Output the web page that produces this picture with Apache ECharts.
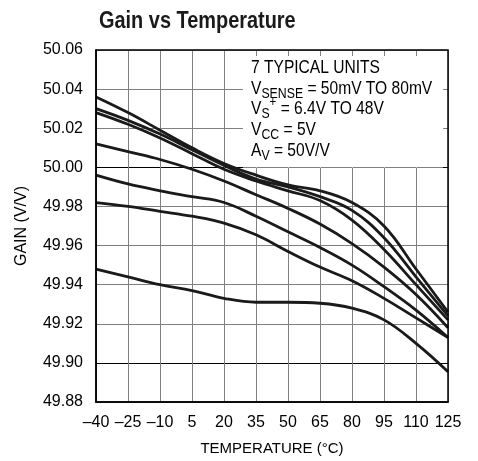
<!DOCTYPE html>
<html><head><meta charset="utf-8">
<script src="https://cdn.jsdelivr.net/npm/echarts@6/dist/echarts.min.js"></script>
<style>html,body{margin:0;padding:0;background:#fff}#c{width:478px;height:461px}</style>
</head><body><div id="c"></div>
<script>
// ---- data ----
const temps = ['–40','–25','–10','5','20','35','50','65','80','95','110','125'];
const unit1 = [50.036, 50.028, 50.019, 50.010, 50.002, 49.996, 49.991, 49.988, 49.982, 49.970, 49.948, 49.926];
const unit2 = [50.030, 50.024, 50.017, 50.009, 50.001, 49.994, 49.990, 49.985, 49.978, 49.964, 49.944, 49.924];
const unit3 = [50.028, 50.022, 50.015, 50.007, 49.999, 49.993, 49.988, 49.983, 49.973, 49.958, 49.940, 49.922];
const unit4 = [50.012, 50.008, 50.004, 49.999, 49.993, 49.986, 49.979, 49.971, 49.961, 49.949, 49.935, 49.918];
const unit5 = [49.996, 49.9915, 49.988, 49.985, 49.982, 49.975, 49.967, 49.959, 49.950, 49.939, 49.927, 49.913];
const unit6 = [49.982, 49.980, 49.9775, 49.975, 49.9715, 49.9655, 49.957, 49.949, 49.942, 49.933, 49.923, 49.913];
const unit7 = [49.948, 49.944, 49.940, 49.937, 49.933, 49.931, 49.931, 49.9305, 49.928, 49.922, 49.910, 49.8955];
const units = [unit1, unit2, unit3, unit4, unit5, unit6, unit7];
const titleText = 'Gain vs Temperature';
const xName = 'TEMPERATURE (°C)';
const yName = 'GAIN (V/V)';
const noteLines = [
  [['7 TYPICAL UNITS','n']],
  [['V','n'],['SENSE','s'],[' = 50mV TO 80mV','n']],
  [['V','n'],['S','s'],['+','p'],[' = 6.4V TO 48V','n']],
  [['V','n'],['CC','s'],[' = 5V','n']],
  [['A','n'],['V','s'],[' = 50V/V','n']]
];

// ---- layout ----
const F = "'Liberation Sans',Arial,Helvetica,sans-serif";
const NARROW = 0.82;
const G = {left:96, top:50, width:352, height:352};
const mctx = document.createElement('canvas').getContext('2d');
function tw(t, s, w){ mctx.font = (w||'normal') + ' ' + s + 'px ' + F; return mctx.measureText(t).width; }

const graphics = [];
// title (condensed look)
graphics.push({type:'text', z:5, x:99, y:21, scaleX:0.83,
  style:{text:titleText, fontSize:24, fontWeight:'bold', fontFamily:F, fill:'#1a1a1a', align:'left', verticalAlign:'middle'}});
// note box
graphics.push({type:'rect', z:1, shape:{x:243, y:56, width:200, height:111.5}, style:{fill:'#fff'}});
const baselines = [74.5, 95, 115.5, 136.5, 157];
const sizes = {n:19, s:15, p:14};
const offs = {n:0, s:4, p:-8};
noteLines.forEach((line, i) => {
  let x = 251;
  line.forEach(([t, k]) => {
    const s = sizes[k];
    const b = baselines[i] + offs[k];
    graphics.push({type:'text', z:3, x:x, y:b - 0.35*s, scaleX:NARROW,
      style:{text:t, fontSize:s, fontFamily:F, fill:'#000', align:'left', verticalAlign:'middle'}});
    x += tw(t, s) * NARROW;
  });
});
graphics.push({type:'rect', z:10, shape:{x:G.left, y:G.top, width:G.width, height:G.height},
  style:{fill:'none', stroke:'#000', lineWidth:1.5}});

const chart = echarts.init(document.getElementById('c'), null, {renderer:'canvas'});
chart.setOption({
  animation:false,
  backgroundColor:'#fff',
  grid:G,
  xAxis:{type:'category', data:temps, boundaryGap:false,
    axisLine:{lineStyle:{color:'#000', width:1.5}},
    axisTick:{show:false},
    axisLabel:{interval:0, color:'#000', fontSize:16, fontFamily:F, margin:13},
    splitLine:{show:true, interval:0, lineStyle:{color:'#808080', width:1}},
    name:xName, nameLocation:'middle', nameGap:39,
    nameTextStyle:{fontSize:15, color:'#000', fontFamily:F}},
  yAxis:{type:'value', min:49.88, max:50.06, interval:0.02,
    axisLine:{show:true, lineStyle:{color:'#000', width:1.5}},
    axisTick:{show:false},
    axisLabel:{color:'#000', fontSize:16, fontFamily:F, margin:13, formatter:v => v.toFixed(2)},
    splitLine:{show:true, lineStyle:{color:['#808080','#000','#808080','#808080','#808080'], width:1}},
    name:yName, nameLocation:'middle', nameGap:66,
    nameTextStyle:{fontSize:16, color:'#000', fontFamily:F}},
  graphic:graphics,
  series: units.map(u => ({type:'line', data:u, smooth:0.4, symbol:'none', z:2,
    lineStyle:{color:'#1a1a1a', width:2.8}}))
});
</script></body></html>
